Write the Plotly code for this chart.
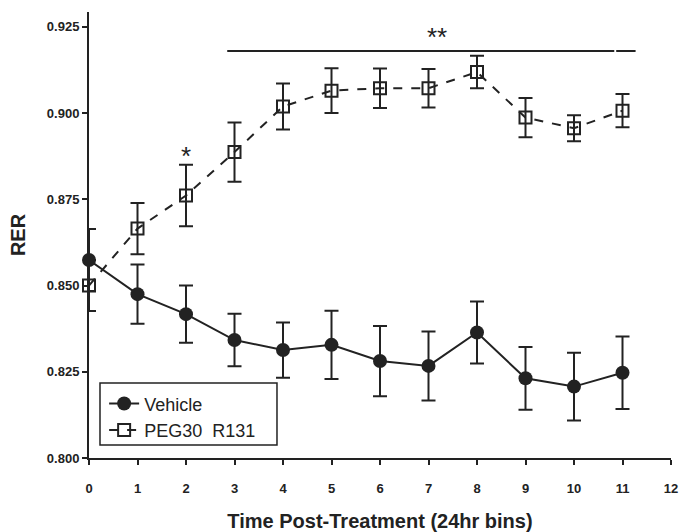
import plotly.graph_objects as go

days = [0, 1, 2, 3, 4, 5, 6, 7, 8, 9, 10, 11]
vehicle_mean = [0.8574, 0.8475, 0.8417, 0.8342, 0.8313, 0.8328, 0.8281, 0.8267, 0.8364, 0.8231, 0.8207, 0.8247]
vehicle_sem = [0.0090, 0.0086, 0.0083, 0.0076, 0.0080, 0.0099, 0.0102, 0.0100, 0.0090, 0.0091, 0.0098, 0.0105]
peg_mean = [0.8500, 0.8665, 0.8761, 0.8887, 0.9019, 0.9065, 0.9072, 0.9072, 0.9119, 0.8987, 0.8956, 0.9007]
peg_sem = [0.0074, 0.0074, 0.0089, 0.0086, 0.0067, 0.0065, 0.0057, 0.0056, 0.0047, 0.0057, 0.0038, 0.0048]

y_ticks = [0.800, 0.825, 0.850, 0.875, 0.900, 0.925]
x_ticks = list(range(0, 13))

sig_level = 0.918
sig_bar1 = [2.85, 10.83]
sig_bar2 = [10.87, 11.27]
single_star_x, single_star_y = 2, 0.8926
double_star_x, double_star_y = 7.18, 0.9270

INK = "#222222"
FONT = "Liberation Sans, Arial, sans-serif"

fig = go.Figure()
fig.add_trace(go.Scatter(
    x=days, y=vehicle_mean, name="Vehicle", mode="lines+markers",
    line=dict(color=INK, width=2),
    marker=dict(symbol="circle", size=14, color=INK),
    error_y=dict(type="data", array=vehicle_sem, color=INK, thickness=2, width=7),
    cliponaxis=False,
))
fig.add_trace(go.Scatter(
    x=days, y=peg_mean, name="PEG30  R131", mode="lines+markers",
    line=dict(color=INK, width=2, dash="dash"),
    marker=dict(symbol="square-open", size=12, color=INK, line=dict(width=2, color=INK)),
    error_y=dict(type="data", array=peg_sem, color=INK, thickness=2, width=7),
    cliponaxis=False,
))
for seg in (sig_bar1, sig_bar2):
    fig.add_shape(type="line", x0=seg[0], x1=seg[1], y0=sig_level, y1=sig_level,
                  xref="x", yref="y", line=dict(color=INK, width=2))
# legend frame
fig.add_shape(type="rect", xref="paper", yref="paper", x0=0.0189, x1=0.323, y0=0.029, y1=0.168,
              line=dict(color=INK, width=1.5), fillcolor="white", layer="above")
fig.add_annotation(x=single_star_x, y=single_star_y, text="*", showarrow=False,
                   yanchor="top", font=dict(size=26, color=INK, family=FONT))
fig.add_annotation(x=double_star_x, y=double_star_y, text="**", showarrow=False,
                   yanchor="top", font=dict(size=26, color=INK, family=FONT))

fig.update_layout(
    width=680, height=532,
    margin=dict(l=89, r=9, t=12, b=74),
    paper_bgcolor="white", plot_bgcolor="white",
    font=dict(family=FONT, color=INK),
    showlegend=True,
    legend=dict(x=0.026, y=0.163, xanchor="left", yanchor="top",
                bgcolor="rgba(0,0,0,0)", borderwidth=0,
                font=dict(size=18, family=FONT, color=INK),
                tracegroupgap=0, itemwidth=30),
    xaxis=dict(range=[0, 12], tickvals=x_ticks, ticks="outside", ticklen=5, tickwidth=2,
               tickcolor=INK, showline=True, linecolor=INK, linewidth=2, automargin=False,
               showgrid=False, zeroline=False, ticklabelstandoff=12,
               tickfont=dict(size=13, family=FONT, color=INK, weight="bold"),
               title=dict(text="<b>Time Post-Treatment (24hr bins)</b>", standoff=24,
                          font=dict(size=20, family=FONT, color=INK))),
    yaxis=dict(range=[0.800, 0.9293], tickvals=y_ticks, tickformat=".3f",
               ticks="outside", ticklen=5, tickwidth=2, tickcolor=INK, automargin=False,
               showline=True, linecolor=INK, linewidth=2, showgrid=False, zeroline=False,
               ticklabelstandoff=0,
               tickfont=dict(size=13, family=FONT, color=INK, weight="bold"),
               title=dict(text="<b>RER</b>", standoff=16,
                          font=dict(size=20, family=FONT, color=INK))),
)
fig.write_html("out.html", config={"displayModeBar": False},
               post_script="document.body.style.margin='0';document.body.style.padding='0';")
